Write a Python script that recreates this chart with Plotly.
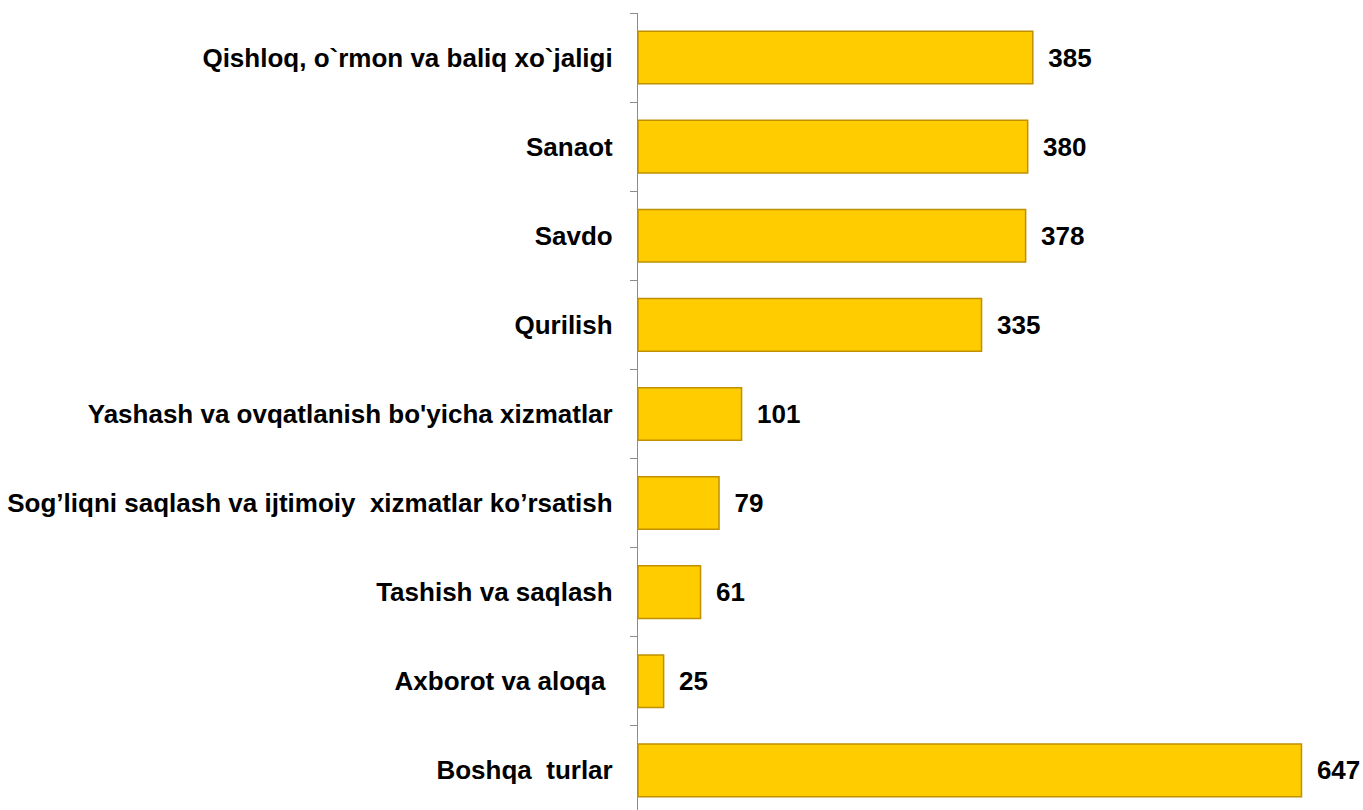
import plotly.graph_objects as go

# ── Data ──────────────────────────────────────────────────────────────────────
categories = [
    "Qishloq, o`rmon va baliq xo`jaligi",
    "Sanaot",
    "Savdo",
    "Qurilish",
    "Yashash va ovqatlanish bo'yicha xizmatlar",
    "Sog’liqni saqlash va ijtimoiy  xizmatlar ko’rsatish",
    "Tashish va saqlash",
    "Axborot va aloqa ",
    "Boshqa  turlar",
]
values = [385, 380, 378, 335, 101, 79, 61, 25, 647]

FONT = "Liberation Sans, Arial, sans-serif"
GOLD = "#FFCC00"
GOLD_EDGE = "#BF9000"
AXIS_GREY = "#8C8C8C"

fig = go.Figure()
fig.add_trace(go.Bar(
    x=values,
    y=categories,
    orientation="h",
    marker=dict(color=GOLD, line=dict(color=GOLD_EDGE, width=1.5)),
    text=[" \u2009" + str(v) for v in values],
    textposition="outside",
    textfont=dict(family=FONT, size=26, color="#000000", weight="bold"),
    cliponaxis=False,
    width=0.59,
))

fig.update_layout(
    width=1363,
    height=810,
    plot_bgcolor="#FFFFFF",
    paper_bgcolor="#FFFFFF",
    margin=dict(l=638, r=0, t=13, b=0),
    showlegend=False,
    font=dict(family=FONT, color="#000000"),
    xaxis=dict(
        range=[0, 707],
        visible=False,
        showgrid=False,
        zeroline=False,
    ),
    yaxis=dict(
        automargin=False,
        categoryorder="array",
        categoryarray=categories,
        range=[8.445, -0.5],
        showline=True,
        linecolor=AXIS_GREY,
        linewidth=1.2,
        ticks="outside",
        tickson="boundaries",
        ticklen=7,
        tickcolor=AXIS_GREY,
        tickwidth=1.2,
        showgrid=False,
        ticklabelstandoff=19,
        tickfont=dict(family=FONT, size=26, color="#000000", weight="bold"),
    ),
)

# drop the default page margin so the figure fills the window exactly
fig.write_html(
    "out.html",
    config={"displayModeBar": False},
    post_script="document.body.style.margin='0';document.body.style.overflow='hidden';",
)
